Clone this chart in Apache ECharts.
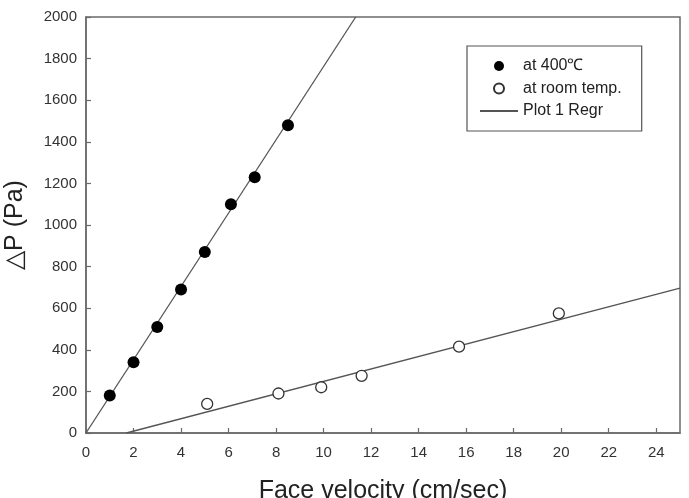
<!DOCTYPE html>
<html>
<head>
<meta charset="utf-8">
<script src="https://cdn.jsdelivr.net/npm/echarts@6/dist/echarts.min.js"></script>
<style>
  html, body { margin: 0; padding: 0; background: #fff; }
  #chart { width: 689px; height: 498px; }
</style>
</head>
<body>
<div id="chart"></div>
<script>
// 400℃ 下的测点
var hotX = [1, 2, 3, 4, 5, 6.1, 7.1, 8.5];
var hotY = [180, 340, 510, 690, 870, 1100, 1230, 1480];
// 室温下的测点
var roomX = [5.1, 8.1, 9.9, 11.6, 15.7, 19.9];
var roomY = [140, 190, 220, 275, 415, 575];
// 回归直线的两端
var regrHotX = [0, 11.35];
var regrHotY = [0, 2000];
var regrRoomX = [1.7, 25];
var regrRoomY = [0, 696];

function pairs(xs, ys) {
    return xs.map(function (x, i) { return [x, ys[i]]; });
}

var font = 'Liberation Sans, Arial, sans-serif';
var axisColor = '#6a6a6a';
var lineColor = '#555';

var chart = echarts.init(document.getElementById('chart'));
var option = {
    animation: false,
    backgroundColor: '#fff',
    grid: {
        left: 86,
        top: 17,
        right: 9,
        bottom: 65,
        outerBoundsMode: 'none',
        containLabel: false,
        show: true,
        borderColor: axisColor,
        borderWidth: 1.5
    },
    legend: {
        left: 467,
        top: 46,
        orient: 'vertical',
        data: [
            'at 400℃',
            'at room temp.',
            { name: 'Plot 1 Regr', itemStyle: { opacity: 0 } }
        ],
        borderColor: '#555',
        borderWidth: 1.2,
        padding: [12, 20, 12, 12],
        itemWidth: 38,
        itemHeight: 10,
        itemGap: 6.5,
        selectedMode: false,
        textStyle: {
            fontFamily: font,
            fontSize: 16,
            color: '#222'
        }
    },
    xAxis: {
        type: 'value',
        min: 0,
        max: 25,
        interval: 2,
        name: 'Face velocity (cm/sec)',
        nameLocation: 'middle',
        nameGap: 46,
        nameTextStyle: { fontFamily: font, fontSize: 25, color: '#222' },
        axisLine: { lineStyle: { color: axisColor, width: 1.5 } },
        axisTick: { inside: true, length: 5, lineStyle: { color: axisColor, width: 1.2 } },
        axisLabel: {
            margin: 12,
            showMaxLabel: false,
            fontFamily: font,
            fontSize: 15,
            color: '#333'
        },
        splitLine: { show: false }
    },
    yAxis: {
        type: 'value',
        min: 0,
        max: 2000,
        interval: 200,
        name: '△P (Pa)',
        nameLocation: 'middle',
        nameGap: 58,
        nameTextStyle: { fontFamily: font, fontSize: 25, color: '#222' },
        axisLine: { show: true, lineStyle: { color: axisColor, width: 1.5 } },
        axisTick: { show: true, inside: true, length: 5, lineStyle: { color: axisColor, width: 1.2 } },
        axisLabel: {
            margin: 9,
            formatter: function (v) { return String(v); },
            fontFamily: font,
            fontSize: 15,
            color: '#333'
        },
        splitLine: { show: false }
    },
    series: [
        {
            name: 'Plot 1 Regr',
            type: 'line',
            data: pairs(regrHotX, regrHotY),
            symbol: 'none',
            lineStyle: { color: lineColor, width: 1.3 },
            itemStyle: { color: lineColor },
            z: 1
        },
        {
            name: 'Plot 1 Regr',
            type: 'line',
            data: pairs(regrRoomX, regrRoomY),
            symbol: 'none',
            lineStyle: { color: lineColor, width: 1.3 },
            itemStyle: { color: lineColor },
            z: 1
        },
        {
            name: 'at 400℃',
            type: 'scatter',
            data: pairs(hotX, hotY),
            symbol: 'circle',
            symbolSize: 12,
            itemStyle: { color: '#000', opacity: 1 },
            z: 3
        },
        {
            name: 'at room temp.',
            type: 'scatter',
            data: pairs(roomX, roomY),
            symbol: 'circle',
            symbolSize: 11,
            itemStyle: { color: '#fff', borderColor: '#333', borderWidth: 1.3, opacity: 1 },
            z: 3
        }
    ]
};
chart.setOption(option);
</script>
</body>
</html>
